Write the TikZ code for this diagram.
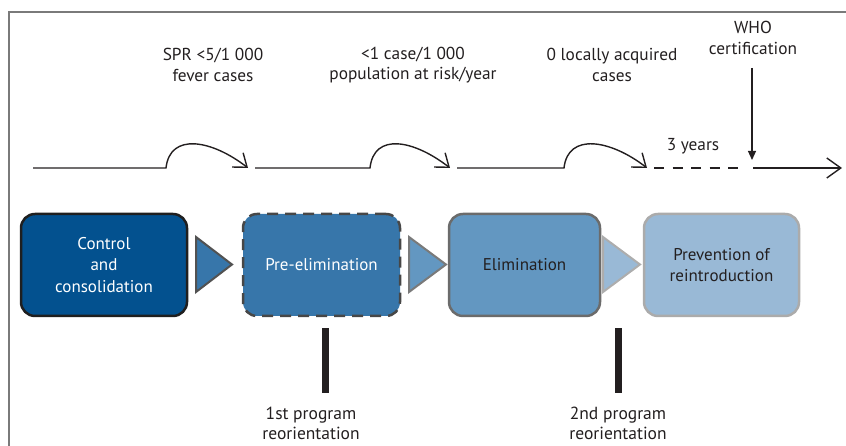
\documentclass[tikz,border=0pt]{standalone}
\usepackage{fontspec}
\setmainfont{PT Sans}
\usetikzlibrary{arrows.meta}
\definecolor{ctrlblue}{HTML}{03518F}
\definecolor{preblue}{HTML}{3776AA}
\definecolor{elimblue}{HTML}{6397C1}
\definecolor{prevblue}{HTML}{99B9D6}
\definecolor{framegray}{HTML}{7A7A7A}
\definecolor{inkblack}{HTML}{231F20}

\begin{document}
\begin{tikzpicture}[x=1pt,y=1pt,
		phase/.style={rounded corners=14pt, minimum height=102pt, line width=2.5pt,
			inner sep=0pt, align=center, font=\fontsize{17}{21.5}\selectfont},
		wedge/.style={line width=2pt, line join=miter},
		timeline/.style={inkblack, line width=1.4pt},
		barb/.style={-{Straight Barb[length=12pt,width=18pt]}},
		cond/.style={inkblack, align=center, font=\fontsize{17.3}{20.5}\selectfont},
		note/.style={inkblack, align=center, font=\fontsize{17.5}{20}\selectfont},
		bar/.style={fill=inkblack, minimum width=7pt, minimum height=65pt, inner sep=0pt}]
		
		\useasboundingbox (0,0) rectangle (846,446);
		
		% THE FRAME
		\draw[framegray, line width=1.5pt] (9,0) -- (9,434) -- (846,434);
		%
		% THE TIMELINE
		\coordinate (s1) at (33,278);
		\coordinate (a1) at (166,278);
		\coordinate (e1) at (248,278);
		\coordinate (s2) at (255,278);
		\coordinate (a2) at (370,278);
		\coordinate (e2) at (450,278);
		\coordinate (s3) at (457,278);
		\coordinate (a3) at (564,278);
		\coordinate (e3) at (647,278);
		\coordinate (d1) at (654,278);
		\coordinate (d2) at (738,278);
		\coordinate (f1) at (753,278);
		\coordinate (f2) at (842,278);
		% STEPS
		\draw[timeline, barb] (s1) -- (a1) .. controls +(4,36) and +(-36,28) .. (e1);
		\draw[timeline, barb] (s2) -- (a2) .. controls +(4,36) and +(-36,28) .. (e2);
		\draw[timeline, barb] (s3) -- (a3) .. controls +(4,36) and +(-36,28) .. (e3);
		% 3 YEARS
		\draw[timeline, dash pattern=on 10pt off 8.5pt] (d1) -- (d2);
		\draw[timeline, -{Straight Barb[length=14pt,width=20pt]}] (f1) -- (f2);
		\node[cond] (yrs) at (693,300) {3 years};
		%
		% THE THRESHOLDS
		\node[cond] (spr) at (213,381) {SPR <5/1 000\\fever cases};
		\node[cond] (inc) at (413,381) {<1 case/1 000\\population at risk/year};
		\node[cond] (zero) at (612,381) {0 locally acquired\\cases};
		\node[cond] (who) at (753,408) {WHO\\certification};
		\coordinate (wtop) at (752,378);
		\coordinate (wtip) at (752,286);
		\draw[inkblack, line width=1.2pt, -{Triangle[length=9pt,width=8pt]}] (wtop) -- (wtip);
		%
		% THE PHASES
		\node[phase, fill=ctrlblue, draw=black!88, text=white, minimum width=166pt]
		(ctrl) at (104,181) {Control\\and\\consolidation};
		\node[phase, fill=preblue, draw=black!72, dash pattern=on 11pt off 7pt,
		text=white, minimum width=157pt] (pre) at (321.5,181) {Pre-elimination};
		\node[phase, fill=elimblue, draw=black!58, text=inkblack, minimum width=151pt]
		(elim) at (524.5,181) {Elimination};
		\node[phase, fill=prevblue, draw=black!33, text=inkblack, minimum width=155pt]
		(prev) at (721.5,181) {Prevention of\\reintroduction};
		%
		% THE WEDGES
		\path[wedge, fill=preblue, draw=black!68]
		(196,209) -- (232,181.5) -- (196,154) -- cycle;
		\path[wedge, fill=elimblue, draw=black!52]
		(409,209) -- (446,181.5) -- (409,154) -- cycle;
		\path[wedge, fill=prevblue, draw=black!32]
		(603,209) -- (640,181.5) -- (603,154) -- cycle;
		%
		% THE REORIENTATIONS
		\node[bar] (bar1) at (325.5,85.5) {};
		\node[bar] (bar2) at (618.5,85.5) {};
		\node[note] (reo1) at (311,22.5) {1st program\\reorientation};
		\node[note] (reo2) at (618,22.5) {2nd program\\reorientation};
	\end{tikzpicture}
\end{document}
